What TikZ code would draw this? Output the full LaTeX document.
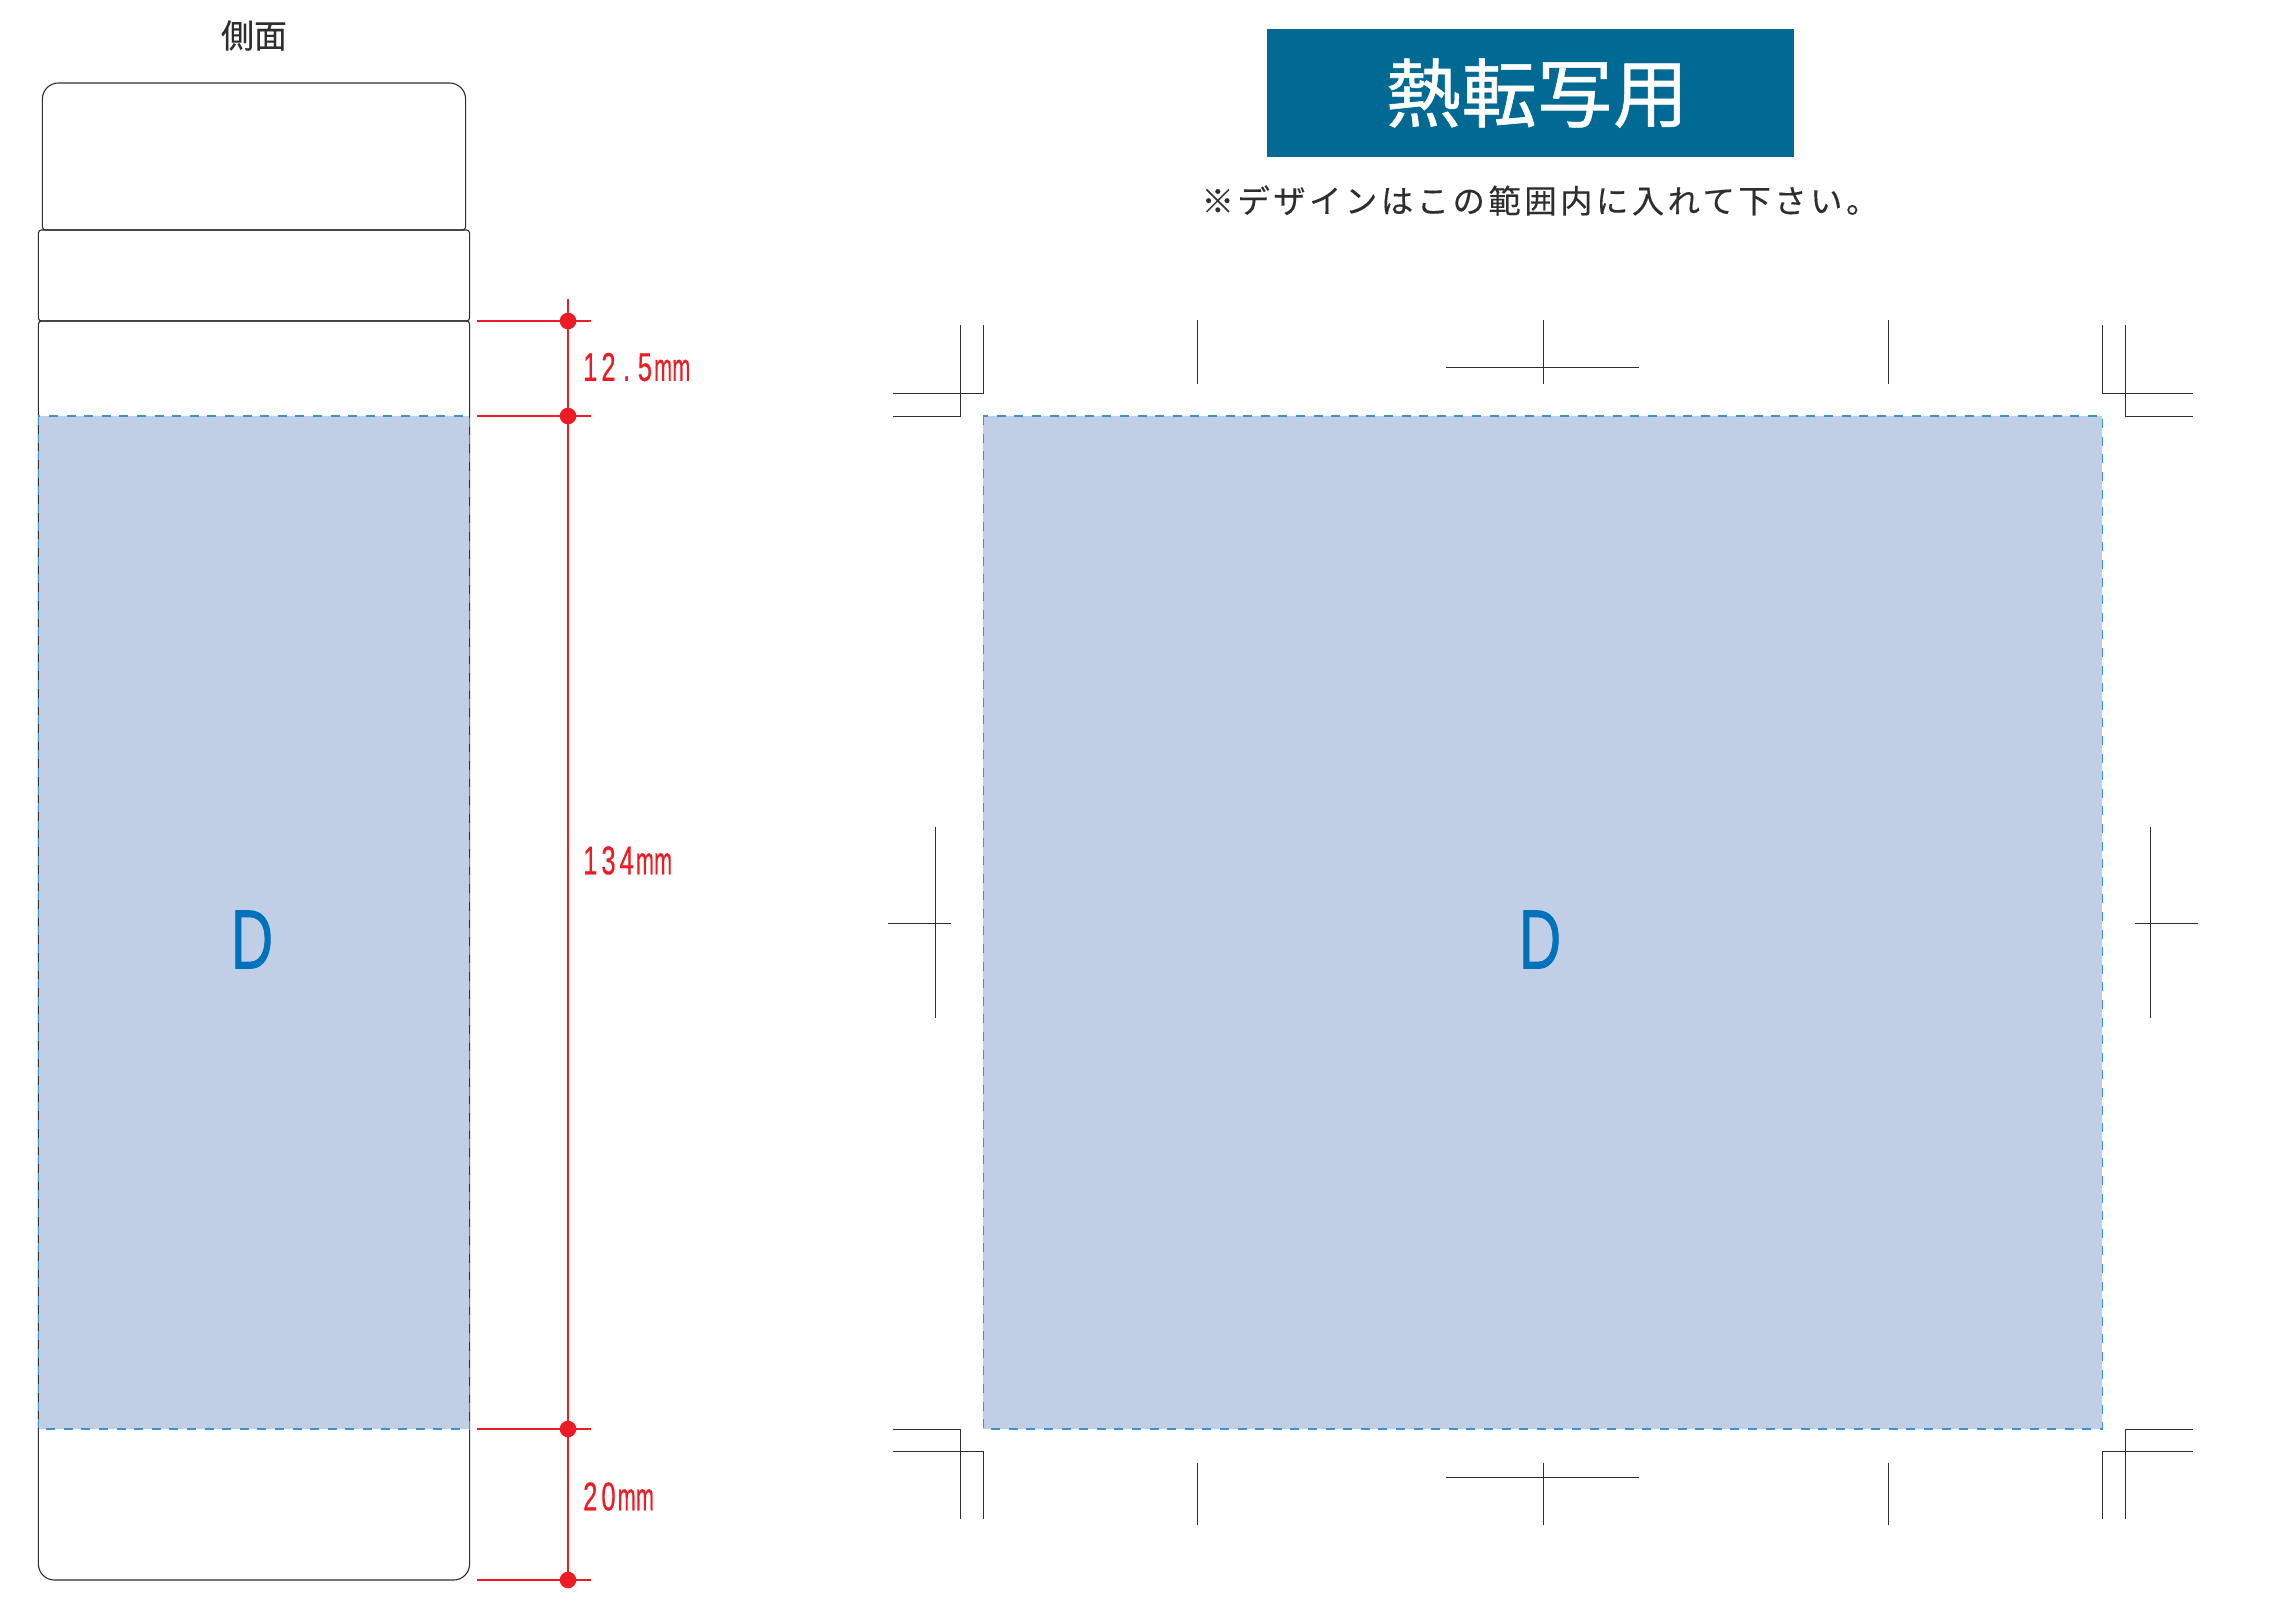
\documentclass[tikz,border=0pt]{standalone}
\usepackage{fontspec}
\setmainfont{Liberation Sans}
\newfontfamily\jp[FakeBold=0.25]{Noto Sans CJK JP}
\newfontfamily\jpsp[LetterSpace=11,FakeBold=0.25]{Noto Sans CJK JP}
\newfontfamily\jptitle[LetterSpace=1,FakeBold=0.8]{Noto Sans CJK JP}
\newfontfamily\dimfont[FakeBold=0.5]{Liberation Sans}
\newfontfamily\letterfont[FakeBold=1.0]{Liberation Sans}
\definecolor{areablue}{HTML}{C0CFE6}
\definecolor{dashblue}{HTML}{3D93D2}
\definecolor{dimred}{HTML}{ED1C24}
\definecolor{headblue}{HTML}{006A94}
\definecolor{letterblue}{HTML}{0072BC}
\definecolor{inkgray}{HTML}{2E2E2E}
\newcommand{\dg}[1]{\makebox[18.2pt][c]{\scalebox{0.64}[1]{#1}}}
\newcommand{\dm}{\makebox[18.2pt][c]{\scalebox{0.54}[0.98]{m}}}
\tikzset{
  outline/.style={draw=inkgray,line width=1.1pt},
  crop/.style={draw=inkgray,line width=1.1pt},
  area/.style={fill=areablue,draw=none},
  areadash/.style={draw=dashblue,line width=1.6pt,dash pattern=on 9pt off 8.6pt},
  dimline/.style={draw=dimred,line width=1.3pt},
  dimdot/.style={fill=dimred,draw=none},
  dimtext/.style={text=dimred,anchor=west,inner sep=0pt,font=\dimfont\fontsize{40}{40}\selectfont},
  bigd/.style={text=letterblue,inner sep=0pt,font=\letterfont\fontsize{84}{84}\selectfont},
}
\begin{document}
\begin{tikzpicture}[x=1pt,y=-1pt]
\useasboundingbox (0,0) rectangle (2286,1598);
\fill[white] (0,0) rectangle (2286,1598);

% side view
\fill[area] (38.4,416) rectangle (469.6,1429);
\draw[outline] [rounded corners=16pt] (42.4,150) -- (42.4,83) -- (465.6,83) -- (465.6,150) [rounded corners=3pt] -- (465.6,230) -- (42.4,230) -- cycle;
\draw[outline] [rounded corners=3pt] (38.4,270) -- (38.4,230) -- (469.6,230) -- (469.6,321) -- (38.4,321) -- cycle;
\draw[outline] [rounded corners=3pt] (38.4,600) -- (38.4,321) -- (469.6,321) -- (469.6,600) [rounded corners=16pt] -- (469.6,1580) -- (38.4,1580) -- cycle;
\draw[areadash] (38.4,416) rectangle (469.6,1429);
\node[inner sep=0pt,font=\jp\fontsize{33}{33}\selectfont,text=inkgray] (sidelabel) at (254,35.5) {側面};
\node[bigd] (dside) at (252,939.5) {\scalebox{0.7}[1]{D}};

% dimensions
\coordinate (dtop) at (568,299);
\coordinate (d1) at (568,321);
\coordinate (d2) at (568,416);
\coordinate (d3) at (568,1429);
\coordinate (d4) at (568,1580);
\draw[dimline] (dtop) -- (d4);
\foreach \p in {d1,d2,d3,d4}{
  \draw[dimline] (477,0 |- \p) -- (590.5,0 |- \p);
  \fill[dimdot] (\p) circle (8.3pt);
}
\node[dimtext] (t125) at (581,367) {\dg{1}\dg{2}\dg{.}\dg{5}\dm\dm};
\node[dimtext] (t134) at (581,860.5) {\dg{1}\dg{3}\dg{4}\dm\dm};
\node[dimtext] (t20) at (581,1496.5) {\dg{2}\dg{0}\dm\dm};

% header
\fill[headblue] (1266.8,28.7) rectangle (1793.9,157.3);
\node[inner sep=0pt,text=white,font=\jptitle\fontsize{75}{75}\selectfont] (title) at (1537,93) {熱転写用};
\node[inner sep=0pt,text=inkgray,font=\jpsp\fontsize{32.3}{32.3}\selectfont] (note) at (1540,200.5) {※デザインはこの範囲内に入れて下さい。};

% print area
\fill[area] (983.3,416) rectangle (2102.3,1429);
\draw[areadash] (983.3,416) rectangle (2102.3,1429);
\node[bigd] (dmain) at (1540,939.5) {\scalebox{0.7}[1]{D}};

% corner crop marks
\draw[crop] (983.5,325) -- (983.5,393.5) -- (892.7,393.5);
\draw[crop] (960.5,325) -- (960.5,416.2) -- (892.7,416.2);
\draw[crop] (2102.5,325) -- (2102.5,393.5) -- (2192.7,393.5);
\draw[crop] (2125.2,325) -- (2125.2,416.2) -- (2192.7,416.2);
\draw[crop] (892.7,1429.5) -- (960.5,1429.5) -- (960.5,1519.3);
\draw[crop] (892.7,1451.5) -- (983.5,1451.5) -- (983.5,1519.3);
\draw[crop] (2192.7,1429.5) -- (2125.2,1429.5) -- (2125.2,1519.3);
\draw[crop] (2192.7,1451.5) -- (2102.5,1451.5) -- (2102.5,1519.3);

% centre marks
\draw[crop] (1543.5,320) -- (1543.5,383.5);
\draw[crop] (1446.4,367.5) -- (1639,367.5);
\draw[crop] (1197.5,320) -- (1197.5,383.5);
\draw[crop] (1888.5,320) -- (1888.5,383.5);
\draw[crop] (1543.5,1462.5) -- (1543.5,1525);
\draw[crop] (1446.4,1477.5) -- (1639,1477.5);
\draw[crop] (1197.5,1462.5) -- (1197.5,1525);
\draw[crop] (1888.5,1462.5) -- (1888.5,1525);
\draw[crop] (935.5,827) -- (935.5,1018);
\draw[crop] (888,923.5) -- (951,923.5);
\draw[crop] (2150.5,827) -- (2150.5,1018);
\draw[crop] (2134.6,923.5) -- (2197.6,923.5);
\end{tikzpicture}
\end{document}
